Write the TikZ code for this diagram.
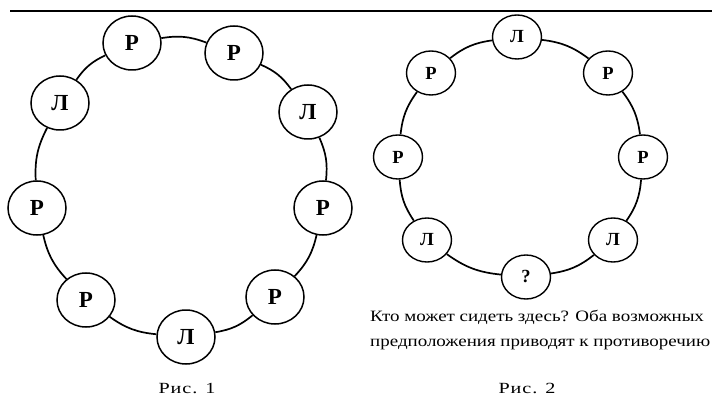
\documentclass[tikz,border=0pt]{standalone}
\usepackage{fontspec}
\setmainfont{Liberation Serif}
\newfontfamily\widefont[FakeStretch=1.2]{Liberation Serif}
\newfontfamily\capfont[FakeStretch=1.3,LetterSpace=6]{Liberation Serif}
\usetikzlibrary{shapes.geometric}
\tikzset{
  bignode/.style={ellipse, draw, line width=1.5pt, fill=white, minimum width=58pt, minimum height=54pt, inner sep=0pt, font=\fontsize{23}{23}\selectfont\bfseries},
  smallnode/.style={ellipse, draw, line width=1.4pt, fill=white, minimum width=49pt, minimum height=44pt, inner sep=0pt, font=\fontsize{18.5}{18.5}\selectfont\bfseries},
  link/.style={line width=1.7pt},
  caption/.style={font=\capfont\fontsize{15.5}{15.5}\selectfont},
  note/.style={font=\widefont\fontsize{15.8}{25}\selectfont, align=left, anchor=north west, inner sep=0pt}
}
\begin{document}
\begin{tikzpicture}[x=1pt,y=-1pt]
\useasboundingbox (0,0) rectangle (712,398);
\coordinate (ruleL) at (10,11);
\coordinate (ruleR) at (712,11);
\draw[line width=2pt] (ruleL) -- (ruleR);
% Figure 1
\node[bignode] (a1) at (132,43) {Р};
\node[bignode] (a2) at (234,53) {Р};
\node[bignode] (a3) at (308,112) {Л};
\node[bignode] (a4) at (323,208) {Р};
\node[bignode] (a5) at (275,297) {Р};
\node[bignode] (a6) at (186,337) {Л};
\node[bignode] (a7) at (86,300) {Р};
\node[bignode] (a8) at (37,208) {Р};
\node[bignode] (a9) at (60,103) {Л};
\foreach \i/\j in {1/2,2/3,3/4,4/5,5/6,6/7,7/8,8/9,9/1}
  \draw[link] (a\i) to[bend left=15] (a\j);
\node[caption] (c1) at (187,388) {Рис. 1};
% Figure 2
\node[smallnode] (b1) at (517,37) {Л};
\node[smallnode] (b2) at (608,73) {Р};
\node[smallnode] (b3) at (643,157) {Р};
\node[smallnode] (b4) at (613,240) {Л};
\node[smallnode] (b5) at (526,277) {?};
\node[smallnode] (b6) at (427,240) {Л};
\node[smallnode] (b7) at (398,157) {Р};
\node[smallnode] (b8) at (431,73) {Р};
\foreach \i/\j in {1/2,2/3,3/4,4/5,5/6,6/7,7/8,8/1}
  \draw[link] (b\i) to[bend left=15] (b\j);
\node[note] (t) at (370,310) {Кто может сидеть здесь? Оба возможных\\предположения приводят к противоречию};
\node[caption] (c2) at (527,388) {Рис. 2};
\end{tikzpicture}
\end{document}
